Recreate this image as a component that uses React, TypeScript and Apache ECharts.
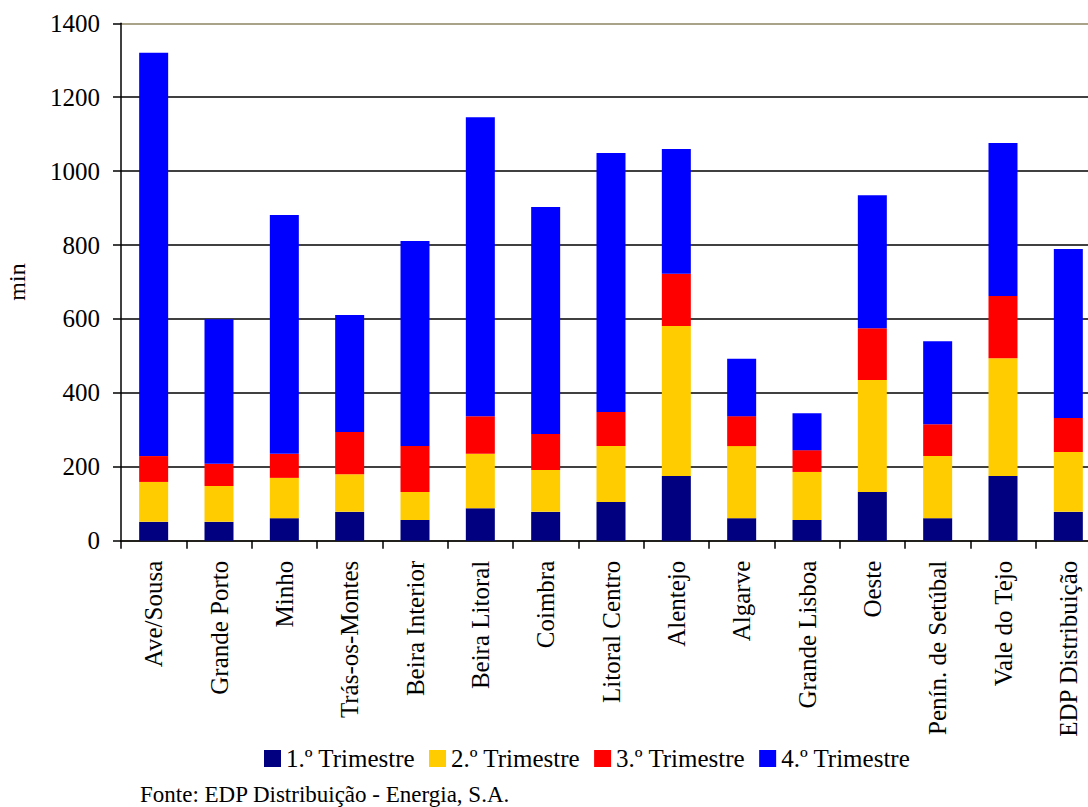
import React, { useEffect, useRef } from "react";
import * as echarts from "echarts";

const regions = [
  "Ave/Sousa",
  "Grande Porto",
  "Minho",
  "Trás-os-Montes",
  "Beira Interior",
  "Beira Litoral",
  "Coimbra",
  "Litoral Centro",
  "Alentejo",
  "Algarve",
  "Grande Lisboa",
  "Oeste",
  "Penín. de Setúbal",
  "Vale do Tejo",
  "EDP Distribuição",
];

const q1 = [51, 51, 61, 78, 56, 88, 78, 105, 175, 61, 56, 132, 61, 175, 78];
const q2 = [108, 97, 109, 102, 76, 147, 113, 151, 406, 195, 130, 303, 168, 319, 162];
const q3 = [70, 60, 65, 114, 124, 102, 98, 92, 141, 81, 59, 140, 86, 168, 92];
const q4 = [1091, 391, 646, 317, 555, 809, 614, 701, 338, 155, 100, 360, 225, 414, 457];

const seriesNames = ["1.º Trimestre", "2.º Trimestre", "3.º Trimestre", "4.º Trimestre"];
const seriesColors = ["#000080", "#FFCC00", "#FF0000", "#0000FF"];

const FONT = "'Liberation Serif', 'Times New Roman', serif";

export default function App() {
  const ref = useRef<HTMLDivElement>(null);

  useEffect(() => {
    if (!ref.current) return;
    const chart = echarts.init(ref.current, null, { renderer: "svg" });
    const values = [q1, q2, q3, q4];
    chart.setOption({
      animation: false,
      backgroundColor: "#ffffff",
      textStyle: { fontFamily: FONT, color: "#000" },
      grid: {
        left: 121,
        top: 23.3,
        width: 980,
        height: 517.4,
        containLabel: false,
        outerBoundsMode: "none",
      },
      legend: {
        data: seriesNames,
        left: 259,
        top: 741,
        itemWidth: 17,
        itemHeight: 17,
        itemGap: 14,
        icon: "rect",
        textStyle: { fontFamily: FONT, fontSize: 25, color: "#000" },
      },
      xAxis: {
        type: "category",
        data: regions,
        axisLine: { lineStyle: { color: "#1a1810", width: 1.5 } },
        axisTick: { show: true, length: 8, lineStyle: { color: "#000", width: 1.5 } },
        axisLabel: {
          rotate: 90,
          interval: 0,
          margin: 20,
          fontFamily: FONT,
          fontSize: 25,
          color: "#000",
        },
      },
      yAxis: {
        type: "value",
        min: 0,
        max: 1400,
        interval: 200,
        name: "min",
        nameLocation: "middle",
        nameRotate: 90,
        nameGap: 92,
        nameTextStyle: { fontFamily: FONT, fontSize: 24, color: "#000" },
        axisLine: { show: true, lineStyle: { color: "#000", width: 1.5 } },
        axisTick: { show: true, length: 8, lineStyle: { color: "#000", width: 1.5 } },
        axisLabel: {
          margin: 21,
          fontFamily: FONT,
          fontSize: 25,
          color: "#000",
          formatter: (v: number) => String(v),
        },
        splitLine: {
          show: true,
          lineStyle: {
            color: ["#000", "#000", "#000", "#000", "#000", "#000", "#000", "#8c8462"],
            width: 1.5,
          },
        },
      },
      series: values.map((v, i) => ({
        name: seriesNames[i],
        type: "bar",
        stack: "total",
        data: v,
        barWidth: 29,
        itemStyle: { color: seriesColors[i] },
      })),
      graphic: [
        {
          type: "text",
          left: 140,
          top: 783,
          style: {
            text: "Fonte: EDP Distribuição - Energia, S.A.",
            font: `23px ${FONT}`,
            fill: "#000",
          },
        },
      ],
    });
    return () => chart.dispose();
  }, []);

  return (
    <div
      style={{
        position: "fixed",
        left: 0,
        top: 0,
        width: 1088,
        height: 807,
        overflow: "hidden",
        background: "#fff",
      }}
    >
      <div ref={ref} style={{ position: "absolute", left: 0, top: 0, width: 1120, height: 807 }} />
    </div>
  );
}
